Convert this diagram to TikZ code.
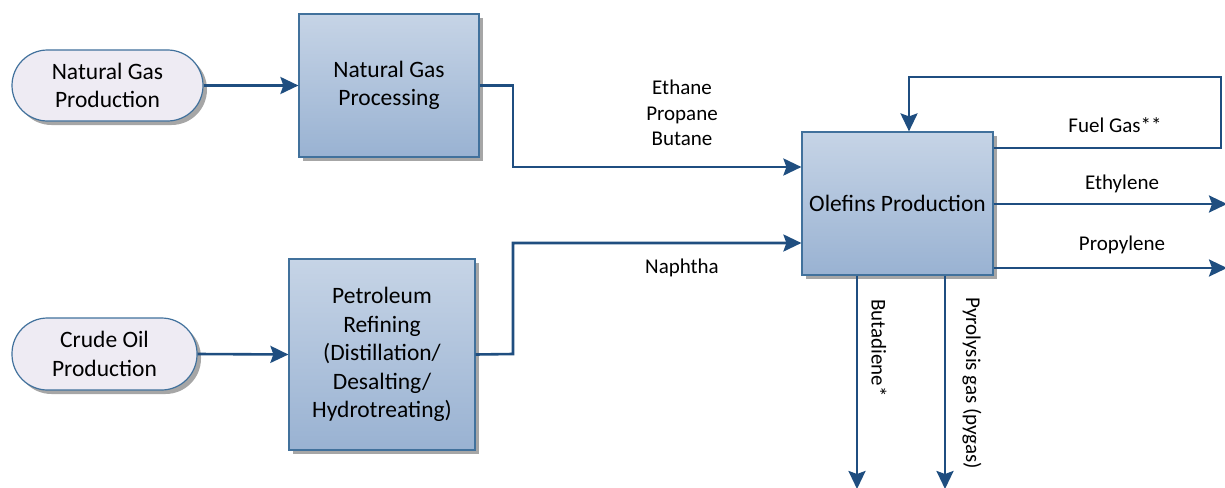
\documentclass[tikz,border=0pt]{standalone}
\usepackage{fontspec}
\setmainfont{Carlito}
\usetikzlibrary{arrows.meta,shadows,calc}
\definecolor{linec}{HTML}{1F4E80}
\definecolor{boxline}{HTML}{41719C}
\definecolor{boxtop}{HTML}{C6D4E6}
\definecolor{boxbot}{HTML}{99B2D2}
\definecolor{stadfill}{HTML}{EEEBF3}
\definecolor{shadowc}{HTML}{A6A6A6}
\tikzset{
  procbox/.style={draw=boxline, line width=1.2pt, top color=boxtop, bottom color=boxbot,
    align=center, inner sep=2pt, font=\fontsize{23.5}{28.5}\selectfont,
    drop shadow={shadow xshift=4pt, shadow yshift=-4pt, fill=shadowc, opacity=1}},
  stadium/.style={draw=boxline, line width=1.2pt, fill=stadfill, rounded corners=35.5pt,
    align=center, inner sep=2pt, font=\fontsize{23.5}{28.5}\selectfont,
    drop shadow={shadow xshift=4pt, shadow yshift=-4pt, fill=shadowc, opacity=1}},
  flow/.style={draw=linec, line width=2.6pt, -{Stealth[length=18pt,width=17pt,inset=3pt]}},
  plain/.style={draw=linec, line width=2.6pt},
  lbl/.style={align=center, inner sep=0pt, font=\fontsize{21}{25.5}\selectfont}
}
\begin{document}
\begin{tikzpicture}[x=1pt,y=-1pt]
\useasboundingbox (0,0) rectangle (1225,487);
% nodes
\node[stadium, minimum width=191pt, minimum height=71pt] (ngprod) at (107.5,85.5) {Natural Gas\\Production};
\node[procbox, minimum width=180pt, minimum height=143pt] (ngproc) at (389,85.5) {Natural Gas\\Processing};
\node[stadium, minimum width=185pt, minimum height=72pt] (crude) at (104.5,354) {Crude Oil\\Production};
\node[procbox, minimum width=186pt, minimum height=191pt] (refin) at (382,354.5) {Petroleum\\Refining\\(Distillation/\\Desalting/\\Hydrotreating)};
\node[procbox, minimum width=191pt, minimum height=143pt] (olef) at (897.5,203.5) {Olefins Production};
% coordinates
\coordinate (j1) at (513,85.5);
\coordinate (j2) at (513,354);
\coordinate (f1) at (1221,148);
\coordinate (f2) at (1221,77);
\coordinate (f3) at (909,77);
\coordinate (ethE) at (1227,204);
\coordinate (proE) at (1227,268);
\coordinate (butE) at (857,489);
\coordinate (pyrE) at (945,489);
% connectors
\draw[flow] (ngprod.east) -- (ngproc.west);
\draw[flow] (crude.east) -- (refin.west);
\draw[flow] (ngproc.east) -- (j1) |- ($(olef.west)+(0,-36.5)$);
\draw[flow] (refin.east) -- (j2) |- ($(olef.west)+(0,39.5)$);
\draw[flow] ($(olef.east)+(0,-55.5)$) -- (f1) -- (f2) -- (f3) -- ($(olef.north)+(11.5,0)$);
\draw[flow] ($(olef.east)+(0,0.5)$) -- (ethE);
\draw[flow] ($(olef.east)+(0,64.5)$) -- (proE);
\draw[flow] ($(olef.south)+(-40.5,0)$) -- (butE);
\draw[flow] ($(olef.south)+(47.5,0)$) -- (pyrE);
% labels
\node[lbl] (lgas) at (682,113) {Ethane\\Propane\\Butane};
\node[lbl] (lnap) at (682,268) {Naphtha};
\node[lbl] (lfuel) at (1115,125) {Fuel Gas**};
\node[lbl] (leth) at (1122,184) {Ethylene};
\node[lbl] (lpro) at (1122,245) {Propylene};
\node[lbl, rotate=-90, anchor=west] (lbut) at (879,299) {Butadiene*};
\node[lbl, rotate=-90, anchor=west] (lpyr) at (972,297) {Pyrolysis gas (pygas)};
\end{tikzpicture}
\end{document}
